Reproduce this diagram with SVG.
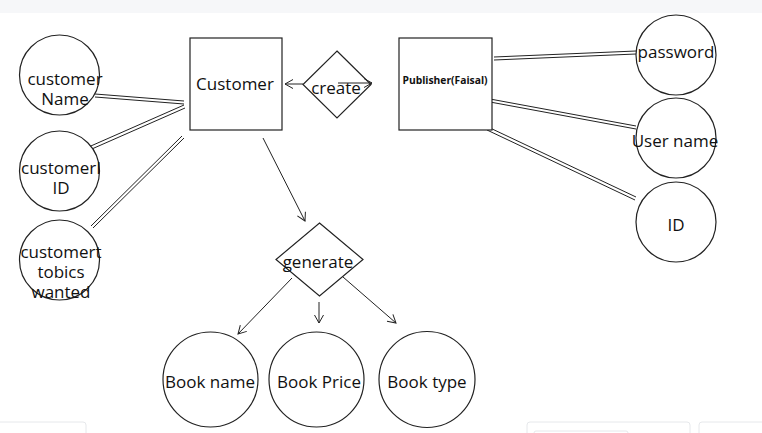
<svg xmlns="http://www.w3.org/2000/svg" width="762" height="433" viewBox="0 0 762 433">
<style>
.shape{fill:#fff;stroke:#222;stroke-width:1.2}
.ln{stroke:#222;stroke-width:1;fill:none}
.t{font-family:"Open Sans","Noto Sans",sans-serif;font-size:17px;fill:#111;text-anchor:middle}
.tb{font-family:"Open Sans","Noto Sans",sans-serif;font-size:10.3px;font-weight:bold;fill:#111;text-anchor:middle}
.ui{fill:#fff;stroke:#e6e8eb;stroke-width:1}
</style>
<defs>
<marker id="ah" markerWidth="12" markerHeight="12" refX="9" refY="5" orient="auto" markerUnits="userSpaceOnUse">
<path d="M1,0.5 L9,5 L1,9.5" fill="none" stroke="#222" stroke-width="1"/>
</marker>
</defs>
<rect x="0" y="0" width="762" height="433" fill="#fff"/>
<rect x="0" y="0" width="762" height="13" fill="#f6f7f9"/>
<g id="ui-bottom">
<rect class="ui" x="-5" y="422" width="91" height="20" rx="3"/>
<rect class="ui" x="527" y="422" width="163" height="20" rx="3"/>
<rect class="ui" x="534" y="431" width="94" height="12" rx="2"/>
<rect class="ui" x="699" y="422" width="70" height="20" rx="3"/>
</g>
<g id="connectors">
<line class="ln" x1="95" y1="94" x2="184" y2="101"/>
<line class="ln" x1="95" y1="97" x2="184" y2="104"/>
<line class="ln" x1="84" y1="149" x2="184" y2="105"/>
<line class="ln" x1="85" y1="152" x2="185" y2="108"/>
<line class="ln" x1="91" y1="226" x2="182" y2="136"/>
<line class="ln" x1="93" y1="228" x2="184" y2="138"/>
<line class="ln" x1="494" y1="57" x2="636" y2="51"/>
<line class="ln" x1="494" y1="60" x2="636" y2="54"/>
<line class="ln" x1="490" y1="99" x2="636" y2="126"/>
<line class="ln" x1="490" y1="102" x2="636" y2="129"/>
<line class="ln" x1="488" y1="127" x2="636" y2="197"/>
<line class="ln" x1="487" y1="130" x2="635" y2="200"/>
<line class="ln" x1="303" y1="84" x2="285" y2="84" marker-end="url(#ah)"/>
<line class="ln" x1="338" y1="83" x2="372" y2="83" marker-end="url(#ah)"/>
<line class="ln" x1="263" y1="138" x2="305" y2="221" marker-end="url(#ah)"/>
<line class="ln" x1="292" y1="278" x2="238" y2="334" marker-end="url(#ah)"/>
<line class="ln" x1="319" y1="302" x2="319" y2="323" marker-end="url(#ah)"/>
<line class="ln" x1="343" y1="277" x2="396" y2="323" marker-end="url(#ah)"/>
</g>
<g id="customerName"><circle class="shape" cx="59.5" cy="75" r="40"/><text class="t"><tspan x="65" y="85">customer</tspan><tspan x="65" y="105">Name</tspan></text></g>
<g id="customerID"><circle class="shape" cx="59.5" cy="171" r="40"/><text class="t"><tspan x="61" y="174">customerI</tspan><tspan x="61" y="194">ID</tspan></text></g>
<g id="customerTopics"><circle class="shape" cx="59.5" cy="260" r="40"/><text class="t"><tspan x="61" y="258">customert</tspan><tspan x="61" y="278">tobics</tspan><tspan x="61" y="298">wanted</tspan></text></g>
<g id="customer"><rect class="shape" x="190" y="38" width="92" height="92"/><text class="t" x="235" y="90">Customer</text></g>
<g id="create"><polygon class="shape" style="fill:none" points="337,51 371,84.5 337,118 303,84.5"/><text class="t" x="336" y="94">create</text></g>
<g id="publisher"><rect class="shape" x="399" y="38" width="93" height="92"/><text class="tb" x="445" y="84">Publisher(Faisal)</text></g>
<g id="password"><circle class="shape" cx="676" cy="55" r="40"/><text class="t" x="676" y="58">password</text></g>
<g id="userName"><circle class="shape" cx="676" cy="138" r="40"/><text class="t" x="675" y="147">User name</text></g>
<g id="pubID"><circle class="shape" cx="676" cy="222" r="40"/><text class="t" x="676" y="231">ID</text></g>
<g id="generate"><polygon class="shape" style="fill:none" points="319.5,223 363,259.5 319.5,296 276,259.5"/><text class="t" x="318" y="268">generate</text></g>
<g id="bookName"><circle class="shape" cx="210.5" cy="379.5" r="47.5"/><text class="t" x="210" y="388">Book name</text></g>
<g id="bookPrice"><circle class="shape" cx="316.5" cy="379.5" r="47.5"/><text class="t" x="319" y="388">Book Price</text></g>
<g id="bookType"><circle class="shape" cx="427" cy="379.5" r="48"/><text class="t" x="427" y="388">Book type</text></g>
</svg>
